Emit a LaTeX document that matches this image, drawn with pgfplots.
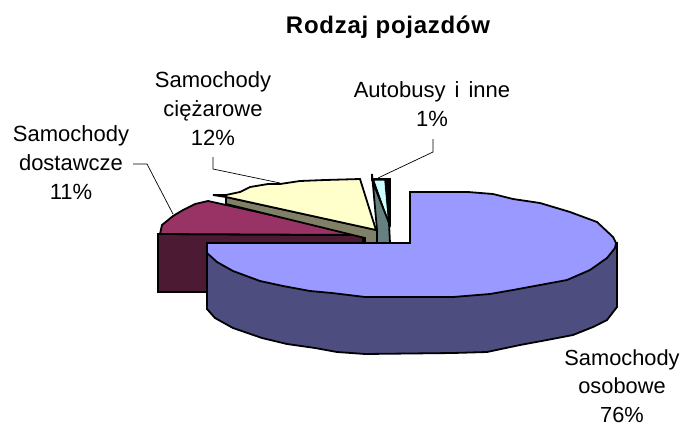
\documentclass[border=0pt]{standalone}
\usepackage{pgfplots}
\pgfplotsset{compat=1.18}
\usepackage{fontspec}
\setmainfont{Liberation Sans}
\newfontfamily\titlefont[LetterSpace=3]{Liberation Sans}
\definecolor{bluetop}{HTML}{9999FF}
\definecolor{blueside}{HTML}{4D4D80}
\definecolor{martop}{HTML}{993366}
\definecolor{marside}{HTML}{4D1A33}
\definecolor{yeltop}{HTML}{FFFFCC}
\definecolor{yelside}{HTML}{808066}
\definecolor{cyantop}{HTML}{CCFFFF}
\definecolor{cyanside}{HTML}{668080}
\begin{document}
\begin{tikzpicture}
\useasboundingbox (0,0) rectangle (682pt,426pt);
\begin{axis}[at={(0,0)},anchor=south west,scale only axis,width=682pt,height=426pt,
 xmin=0,xmax=682,ymin=0,ymax=426,y dir=reverse,hide axis,clip=false,
 every axis plot/.style={line width=1.8pt,line join=miter,draw=black}]
% maroon side
\addplot[fill=marside] coordinates {(158,234)(363,235)(363,292)(158,292)} --cycle;
% maroon top
\addplot[fill=martop] coordinates {(160,234)(162,225)(173,216)(183,210)(195,204)(208,201)(362,235)} --cycle;
% olive side
\addplot[fill=yelside] coordinates {(226,197)(377,230)(378,244)(365,244)(365,238)(226,204)} --cycle;
% yellow top
\addplot[fill=yeltop] coordinates {(226,197)(213,195)(226,195)(240,192)(250,187)(268,184)(280,184)(300,181)(325,180)(360,179)(376,230)} --cycle;
% black inner
\addplot[fill=black] coordinates {(373,179)(390,179)(390,223)} --cycle;
% cyan
\addplot[fill=cyantop,line width=0.6pt,draw=cyantop] coordinates {(375,181)(384,181)(387,215)} --cycle;
% teal
\addplot[fill=cyanside] coordinates {(372,174)(372,180)(389,223)(390,243)(377,243)(377,230)} --cycle;
% blue side
\addplot[fill=blueside] coordinates {(207,243)(617,243)(617,307)(607,320)(593,327)(573,335)(547,340)(520,345)(487,352)(453,353)(365,354)(337,352)(315,348)(287,344)(262,338)(233,328)(215,318)(207,309)} --cycle;
% blue top
\addplot[fill=bluetop] coordinates {(410,192)(468,192)(493,194)(513,199)(540,203)(570,212)(597,222)(613,237)(616,243)(615,248)(607,258)(590,270)(567,280)(540,285)(513,290)(490,294)(453,297)(365,297)(332,293)(310,291)(283,286)(260,281)(233,271)(217,262)(207,253)(207,243)(410,243)} --cycle;
% leaders
\addplot[line width=0.7pt] coordinates {(133,164)(147,164)(173,214)};
\addplot[line width=0.7pt] coordinates {(213,157)(213,169)(280,183)};
\addplot[line width=0.7pt] coordinates {(433,139)(433,152)(378,178)};
\tikzset{lab/.style={align=center,anchor=center,inner sep=0pt,font=\fontsize{22}{29}\selectfont}}
\node[lab] at (axis cs:71,163) {Samochody\\dostawcze\\11\%};
\node[lab] at (axis cs:213,109) {Samochody\\cięż{}arowe\\12\%};
\node[lab] at (axis cs:432,104) {Autobusy\hspace{3pt} i\hspace{3pt} inne\\1\%};
\node[lab,font=\fontsize{21.8}{28.5}\selectfont] at (axis cs:622,386) {Samochody\\osobowe\\76\%};
\node[align=center,inner sep=0pt,font=\fontsize{24}{28}\selectfont\titlefont\bfseries] at (axis cs:388,27) {Rodzaj pojazdów};
\end{axis}
\end{tikzpicture}
\end{document}
